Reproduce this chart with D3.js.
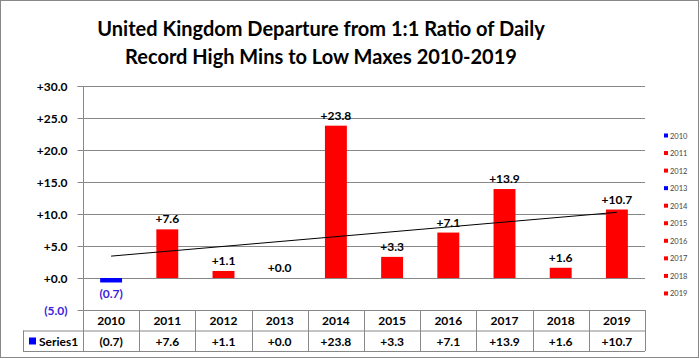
<!DOCTYPE html>
<html><head><meta charset="utf-8">
<script src="https://cdn.jsdelivr.net/npm/d3@7"></script>
<style>body{margin:0;background:#fff}svg{display:block}</style>
</head><body>
<script>
const categories = ["2010","2011","2012","2013","2014","2015","2016","2017","2018","2019"];
const values = [-0.7, 7.6, 1.1, 0.0, 23.8, 3.3, 7.1, 13.9, 1.6, 10.7];
const yTicks = [-5, 0, 5, 10, 15, 20, 25, 30];
const seriesName = "Series1";
const titleLines = ["United Kingdom Departure from 1:1 Ratio of Daily", "Record High Mins to Low Maxes 2010-2019"];

const W = 700, H = 359;
const font = "Lato, 'Open Sans', sans-serif";
const fmt = v => v < 0 ? "(" + Math.abs(v).toFixed(1) + ")" : "+" + v.toFixed(1);
const barColor = v => v <= 0 ? "#0000ff" : "#ff0000";
const negText = "#3a22dc";

const svg = d3.select("body").append("svg").attr("width", W).attr("height", H);
svg.append("rect").attr("x", 0.5).attr("y", 0.5).attr("width", W - 2).attr("height", H - 2)
  .attr("fill", "#fff").attr("stroke", "#888");

// title
svg.append("g").selectAll("text").data(titleLines).join("text")
  .attr("x", 321).attr("y", (d, i) => 36 + i * 27.5)
  .attr("text-anchor", "middle").attr("font-family", font).attr("font-weight", "bold")
  .attr("font-size", 20).attr("fill", "#000").text(d => d);

const plot = {l: 83, r: 645, t: 86, b: 310};
const x = d3.scaleBand().domain(categories).range([plot.l, plot.r]);
const y = d3.scaleLinear().domain([-5, 30]).range([plot.b, plot.t]);

// gridlines
svg.append("g").selectAll("line").data(yTicks.filter(t => t > -5)).join("line")
  .attr("x1", plot.l).attr("x2", plot.r).attr("y1", d => Math.round(y(d)) + 0.5).attr("y2", d => Math.round(y(d)) + 0.5)
  .attr("stroke", "#888").attr("stroke-width", 1);

// y axis
const yAxis = d3.axisLeft(y).tickValues(yTicks).tickSize(6).tickPadding(10).tickFormat(fmt);
const gy = svg.append("g").attr("transform", `translate(${plot.l + 0.5},0.5)`).call(yAxis);
gy.select(".domain").attr("stroke", "#888").attr("d", `M-6,${y(30)}H0V${y(-5)}`);
gy.selectAll(".tick line").attr("stroke", "#888");
gy.selectAll(".tick").attr("transform", d => `translate(0,${Math.round(y(d))})`);
gy.selectAll(".tick text").attr("font-family", font).attr("font-weight", "bold").attr("font-size", 12)
  .attr("fill", d => d < 0 ? negText : "#000").attr("dy", "0.35em");

// bars
const bw = x.bandwidth() * 0.39;
svg.append("g").selectAll("rect").data(values).join("rect")
  .attr("x", (d, i) => x(categories[i]) + (x.bandwidth() - bw) / 2)
  .attr("width", bw)
  .attr("y", d => y(Math.max(0, d)))
  .attr("height", d => Math.abs(y(d) - y(0)))
  .attr("fill", barColor);

// trend line (least squares)
const n = values.length;
const xm = (n - 1) / 2, ym = d3.mean(values);
let sxy = 0, sxx = 0;
values.forEach((v, i) => { sxy += (i - xm) * (v - ym); sxx += (i - xm) ** 2; });
const slope = sxy / sxx, icpt = ym - slope * xm;
const cx = i => x(categories[i]) + x.bandwidth() / 2;
svg.append("line").attr("x1", cx(0)).attr("y1", y(icpt)).attr("x2", cx(n - 1)).attr("y2", y(icpt + slope * (n - 1)))
  .attr("stroke", "#000").attr("stroke-width", 1);

// data labels
svg.append("g").selectAll("text").data(values).join("text")
  .attr("x", (d, i) => cx(i))
  .attr("y", d => d < 0 ? y(d) + 16 : y(d) - 6)
  .attr("text-anchor", "middle").attr("font-family", font).attr("font-weight", "bold").attr("font-size", 12)
  .attr("fill", d => d < 0 ? negText : "#000").text(fmt);

// data table
const rowH = 20.5, tTop = plot.b, tLeft = 23;
const tbl = svg.append("g");
tbl.append("line").attr("x1", plot.l).attr("x2", plot.r).attr("y1", tTop + 0.5).attr("y2", tTop + 0.5).attr("stroke", "#888");
tbl.append("line").attr("x1", tLeft).attr("x2", plot.r).attr("y1", tTop + rowH + 0.5).attr("y2", tTop + rowH + 0.5).attr("stroke", "#888");
tbl.append("line").attr("x1", tLeft).attr("x2", plot.r).attr("y1", tTop + 2 * rowH + 0.5).attr("y2", tTop + 2 * rowH + 0.5).attr("stroke", "#888");
tbl.append("line").attr("x1", tLeft + 0.5).attr("x2", tLeft + 0.5).attr("y1", tTop + rowH).attr("y2", tTop + 2 * rowH).attr("stroke", "#888");
const edges = categories.map(c => x(c)).concat([plot.r]);
tbl.selectAll(".v").data(edges).join("line")
  .attr("x1", d => Math.round(d) + 0.5).attr("x2", d => Math.round(d) + 0.5)
  .attr("y1", tTop).attr("y2", tTop + 2 * rowH).attr("stroke", "#888");
tbl.selectAll(".h").data(categories).join("text")
  .attr("x", d => x(d) + x.bandwidth() / 2).attr("y", tTop + 15)
  .attr("text-anchor", "middle").attr("font-family", font).attr("font-weight", "bold").attr("font-size", 12).text(d => d);
tbl.selectAll(".c").data(values).join("text")
  .attr("x", (d, i) => cx(i)).attr("y", tTop + rowH + 15)
  .attr("text-anchor", "middle").attr("font-family", font).attr("font-weight", "bold").attr("font-size", 12).text(fmt);
tbl.append("rect").attr("x", 29).attr("y", tTop + rowH + 7).attr("width", 7).attr("height", 7).attr("fill", "#0000ff");
tbl.append("text").attr("x", 39).attr("y", tTop + rowH + 15).attr("font-family", font).attr("font-weight", "bold")
  .attr("font-size", 12).text(seriesName);

// legend
const lg = svg.append("g").selectAll("g").data(categories).join("g")
  .attr("transform", (d, i) => `translate(664,${136 + i * 17.55})`);
lg.append("rect").attr("x", 0).attr("y", -2.5).attr("width", 4).attr("height", 4).attr("fill", (d, i) => barColor(values[i]));
lg.append("text").attr("x", 6).attr("y", 2.5).attr("font-family", font).attr("font-size", 7.5).attr("fill", "#444").text(d => d);
</script>
</body></html>
